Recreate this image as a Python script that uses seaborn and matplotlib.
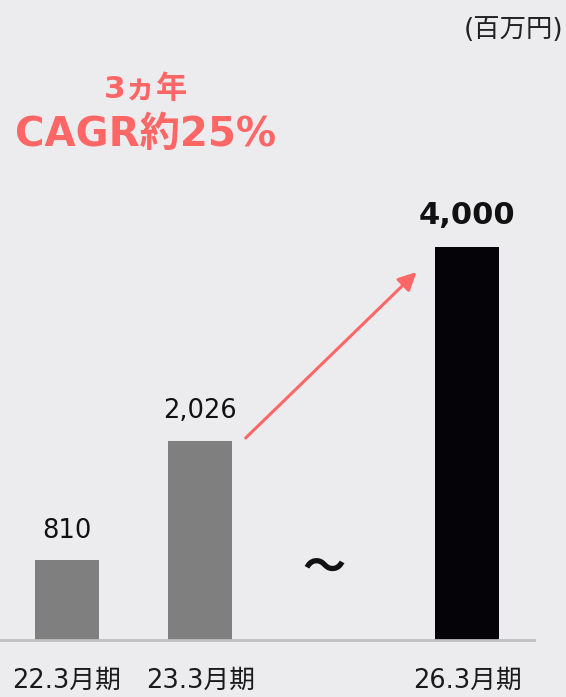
import pandas as pd
import matplotlib
matplotlib.use("Agg")
import matplotlib.pyplot as plt
import seaborn as sns

# data
periods = ["22.3月期", "23.3月期", "", "26.3月期"]
shown = ["22.3月期", "23.3月期", "26.3月期"]
sales = [810, 2026, 4000]
value_labels = ["810", "2,026", "4,000"]
bar_colors = ["#7f7f7f", "#7f7f7f", "#050308"]

bg = "#ececef"
accent = "#ff6666"

sns.set_theme(style="white")
plt.rcParams["font.family"] = ["DejaVu Sans", "Noto Sans CJK JP"]

df = pd.DataFrame({"period": shown, "sales": sales})

fig = plt.figure(figsize=(5.66, 6.97), dpi=100, facecolor=bg)
ax = fig.add_axes([0, 57 / 697, 534 / 566, 640 / 697])
ax.set_facecolor(bg)

sns.barplot(data=df, x="period", y="sales", hue="period", order=periods,
            palette=dict(zip(shown, bar_colors)), width=0.48,
            saturation=1, linewidth=0, legend=False, ax=ax)

ax.set_xlim(-0.5, 3.5)
ax.set_ylim(0, 4000 * 640 / 393)
ax.set_xlabel("")
ax.set_ylabel("")
ax.set_yticks([])
ax.tick_params(axis="x", length=0, pad=20, labelsize=18.5, labelcolor="#1a1a1a")
for s in ["top", "right", "left"]:
    ax.spines[s].set_visible(False)
ax.spines["bottom"].set_color("#bfbfbf")
ax.spines["bottom"].set_linewidth(2)

# value labels
pos = [periods.index(p) for p in shown]
for i, (x, v, lab) in enumerate(zip(pos, sales, value_labels)):
    last = i == len(sales) - 1
    ax.text(x, v + 170, lab, ha="center", va="bottom",
            fontsize=22 if last else 18.5,
            fontweight="bold" if last else "normal", color="#111111")

# wave mark for the skipped years
ax.text(1.93, 740, "～", ha="center", va="center", fontsize=31,
        fontweight="bold", family=["Noto Sans CJK JP"], color="#111111")

# growth arrow
ax.annotate("", xy=(pos[2] - 0.38, sales[2] - 255),
            xytext=(pos[1] + 0.34, sales[1] + 30),
            arrowprops=dict(arrowstyle="-|>,head_length=0.9,head_width=0.45",
                            color=accent, lw=2.2, shrinkA=0, shrinkB=0))

fig.text(146 / 566, 1 - 89 / 697, "3ヵ年", ha="center", va="center",
         fontsize=22.5, fontweight="bold", color=accent)
fig.text(146 / 566, 1 - 135 / 697, "CAGR約25%", ha="center", va="center",
         fontsize=29, fontweight="bold", color=accent)
fig.text(563 / 566, 1 - 30 / 697, "(百万円)", ha="right", va="center",
         fontsize=19, color="#222222")

fig.savefig("out.png", dpi=100, facecolor=bg)
